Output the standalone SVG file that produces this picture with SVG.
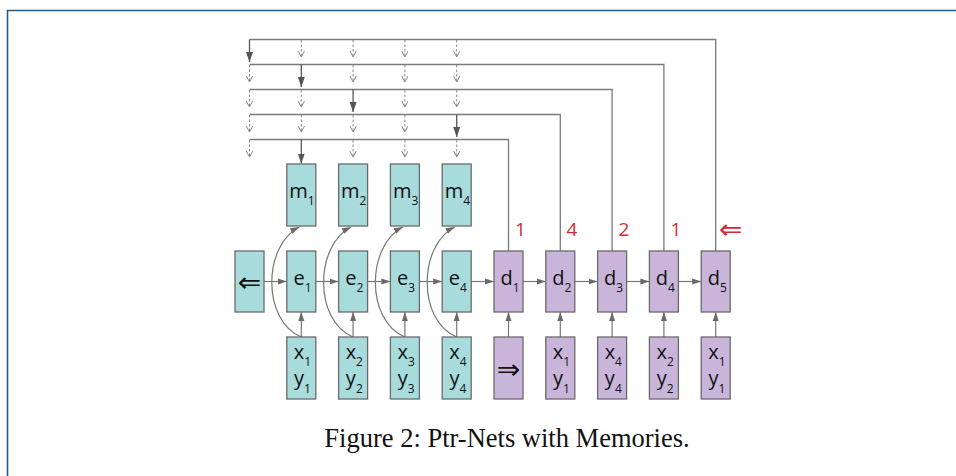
<svg xmlns="http://www.w3.org/2000/svg" width="956" height="476" viewBox="0 0 956 476">
<style>
.bt{fill:#a8dcdc;stroke:#6a6a6a;stroke-width:1.3}
.bp{fill:#c9b5da;stroke:#6a6a6a;stroke-width:1.3}
.lbl{font-family:"Open Sans","DejaVu Sans",sans-serif;font-size:20px;fill:#111;text-anchor:middle}
.sub{font-size:12px}
.arr{font-family:"DejaVu Sans",sans-serif;font-size:28px;fill:#111;text-anchor:middle}
.red{font-family:"Open Sans","DejaVu Sans",sans-serif;font-size:19px;fill:#d42a35;text-anchor:middle}
.ln{fill:none;stroke:#7a7a7a;stroke-width:1.3}
.sol{fill:none;stroke:#555;stroke-width:1.3;marker-end:url(#ah)}
.con{fill:none;stroke:#777;stroke-width:1.2;marker-end:url(#ah2)}
.dsh{fill:none;stroke:#888;stroke-width:1;stroke-dasharray:2.5 2;marker-end:url(#ao)}
.cap{font-family:"Liberation Serif","Times New Roman",serif;font-size:26.5px;fill:#111;text-anchor:middle}
</style>
<defs>
<marker id="ah" markerUnits="userSpaceOnUse" markerWidth="10" markerHeight="8" refX="10" refY="4" orient="auto"><path d="M0,0.5 L10,4 L0,7.5 z" fill="#555"/></marker>
<marker id="ah2" markerUnits="userSpaceOnUse" markerWidth="10" markerHeight="8" refX="9" refY="3.5" orient="auto"><path d="M0,0.5 L9,3.5 L0,6.5 z" fill="#6a6a6a"/></marker>
<marker id="ao" markerUnits="userSpaceOnUse" markerWidth="8" markerHeight="8" refX="6" refY="3.5" orient="auto"><path d="M0,0.3 L6,3.5 L0,6.7" fill="none" stroke="#888" stroke-width="1"/></marker>
</defs>
<rect width="956" height="476" fill="#fff"/>
<path d="M7.5,476 V10.5 H956" fill="none" stroke="#2b5b8b" stroke-width="1.6"/>

<g id="connectors">
<path class="ln" d="M715.7,251 V39.5 H249.5"/>
<path class="ln" d="M663.9,251 V64.5 H249.5"/>
<path class="ln" d="M612.1,251 V89.5 H249.5"/>
<path class="ln" d="M560.3,251 V114.5 H249.5"/>
<path class="ln" d="M508.5,251 V139.5 H249.5"/>
<path class="sol" d="M249.5,39.5 V62"/>
<path class="sol" d="M301.3,64.5 V87"/>
<path class="sol" d="M353.1,89.5 V112"/>
<path class="sol" d="M456.7,114.5 V137"/>
<path class="sol" d="M301.3,139.5 V163.5"/>
<path class="dsh" d="M301.3,40 V57"/><path class="dsh" d="M353.1,40 V57"/><path class="dsh" d="M404.9,40 V57"/><path class="dsh" d="M456.7,40 V57"/>
<path class="dsh" d="M249.5,65 V82"/><path class="dsh" d="M353.1,65 V82"/><path class="dsh" d="M404.9,65 V82"/><path class="dsh" d="M456.7,65 V82"/>
<path class="dsh" d="M249.5,90 V107"/><path class="dsh" d="M301.3,90 V107"/><path class="dsh" d="M404.9,90 V107"/><path class="dsh" d="M456.7,90 V107"/>
<path class="dsh" d="M249.5,115 V132"/><path class="dsh" d="M301.3,115 V132"/><path class="dsh" d="M353.1,115 V132"/><path class="dsh" d="M404.9,115 V132"/>
<path class="dsh" d="M249.5,140 V157"/><path class="dsh" d="M353.1,140 V157"/><path class="dsh" d="M404.9,140 V157"/><path class="dsh" d="M456.7,140 V157"/>
<path class="con" d="M264,281.5 H286.8"/>
<path class="con" d="M315.8,281.5 H338.6"/>
<path class="con" d="M367.6,281.5 H390.4"/>
<path class="con" d="M419.4,281.5 H442.2"/>
<path class="con" d="M471.2,281.5 H494"/>
<path class="con" d="M523,281.5 H545.8"/>
<path class="con" d="M574.8,281.5 H597.6"/>
<path class="con" d="M626.6,281.5 H649.4"/>
<path class="con" d="M678.4,281.5 H701.2"/>
<path class="con" d="M301.3,337 V312"/>
<path class="con" d="M353.1,337 V312"/>
<path class="con" d="M404.9,337 V312"/>
<path class="con" d="M456.7,337 V312"/>
<path class="con" d="M508.5,337 V312"/>
<path class="con" d="M560.3,337 V312"/>
<path class="con" d="M612.1,337 V312"/>
<path class="con" d="M663.9,337 V312"/>
<path class="con" d="M715.7,337 V312"/>
<path class="con" d="M301.3,337 C261.3,320 263.3,245 299.3,227"/>
<path class="con" d="M353.1,337 C313.1,320 315.1,245 351.1,227"/>
<path class="con" d="M404.9,337 C364.9,320 366.9,245 402.9,227"/>
<path class="con" d="M456.7,337 C416.7,320 418.7,245 454.7,227"/>
</g>

<g id="m1"><rect class="bt" x="286.8" y="164" width="29" height="62"/><text class="lbl" x="302" y="198">m<tspan class="sub" dy="7">1</tspan></text></g>
<g id="m2"><rect class="bt" x="338.6" y="164" width="29" height="62"/><text class="lbl" x="353.8" y="198">m<tspan class="sub" dy="7">2</tspan></text></g>
<g id="m3"><rect class="bt" x="390.4" y="164" width="29" height="62"/><text class="lbl" x="405.6" y="198">m<tspan class="sub" dy="7">3</tspan></text></g>
<g id="m4"><rect class="bt" x="442.2" y="164" width="29" height="62"/><text class="lbl" x="457.4" y="198">m<tspan class="sub" dy="7">4</tspan></text></g>

<g id="start"><rect class="bt" x="235" y="251" width="29" height="61"/><text class="arr" x="249.5" y="291.5">⇐</text></g>
<g id="e1"><rect class="bt" x="286.8" y="251" width="29" height="61"/><text class="lbl" x="302.5" y="285">e<tspan class="sub" dy="7">1</tspan></text></g>
<g id="e2"><rect class="bt" x="338.6" y="251" width="29" height="61"/><text class="lbl" x="354.3" y="285">e<tspan class="sub" dy="7">2</tspan></text></g>
<g id="e3"><rect class="bt" x="390.4" y="251" width="29" height="61"/><text class="lbl" x="406.1" y="285">e<tspan class="sub" dy="7">3</tspan></text></g>
<g id="e4"><rect class="bt" x="442.2" y="251" width="29" height="61"/><text class="lbl" x="457.9" y="285">e<tspan class="sub" dy="7">4</tspan></text></g>
<g id="d1"><rect class="bp" x="494" y="251" width="29" height="61"/><text class="lbl" x="510" y="285">d<tspan class="sub" dy="7">1</tspan></text></g>
<g id="d2"><rect class="bp" x="545.8" y="251" width="29" height="61"/><text class="lbl" x="561.8" y="285">d<tspan class="sub" dy="7">2</tspan></text></g>
<g id="d3"><rect class="bp" x="597.6" y="251" width="29" height="61"/><text class="lbl" x="613.6" y="285">d<tspan class="sub" dy="7">3</tspan></text></g>
<g id="d4"><rect class="bp" x="649.4" y="251" width="29" height="61"/><text class="lbl" x="665.4" y="285">d<tspan class="sub" dy="7">4</tspan></text></g>
<g id="d5"><rect class="bp" x="701.2" y="251" width="29" height="61"/><text class="lbl" x="717.2" y="285">d<tspan class="sub" dy="7">5</tspan></text></g>

<g id="x1"><rect class="bt" x="286.8" y="337" width="29" height="62"/><text class="lbl" x="302.5" y="359">x<tspan class="sub" dy="7">1</tspan></text><text class="lbl" x="302.5" y="385">y<tspan class="sub" dy="8">1</tspan></text></g>
<g id="x2"><rect class="bt" x="338.6" y="337" width="29" height="62"/><text class="lbl" x="354.3" y="359">x<tspan class="sub" dy="7">2</tspan></text><text class="lbl" x="354.3" y="385">y<tspan class="sub" dy="8">2</tspan></text></g>
<g id="x3"><rect class="bt" x="390.4" y="337" width="29" height="62"/><text class="lbl" x="406.1" y="359">x<tspan class="sub" dy="7">3</tspan></text><text class="lbl" x="406.1" y="385">y<tspan class="sub" dy="8">3</tspan></text></g>
<g id="x4"><rect class="bt" x="442.2" y="337" width="29" height="62"/><text class="lbl" x="457.9" y="359">x<tspan class="sub" dy="7">4</tspan></text><text class="lbl" x="457.9" y="385">y<tspan class="sub" dy="8">4</tspan></text></g>
<g id="go"><rect class="bp" x="494" y="337" width="29" height="62"/><text class="arr" x="508.5" y="378.5">⇒</text></g>
<g id="i2"><rect class="bp" x="545.8" y="337" width="29" height="62"/><text class="lbl" x="561.5" y="359">x<tspan class="sub" dy="7">1</tspan></text><text class="lbl" x="561.5" y="385">y<tspan class="sub" dy="8">1</tspan></text></g>
<g id="i3"><rect class="bp" x="597.6" y="337" width="29" height="62"/><text class="lbl" x="613.3" y="359">x<tspan class="sub" dy="7">4</tspan></text><text class="lbl" x="613.3" y="385">y<tspan class="sub" dy="8">4</tspan></text></g>
<g id="i4"><rect class="bp" x="649.4" y="337" width="29" height="62"/><text class="lbl" x="665.1" y="359">x<tspan class="sub" dy="7">2</tspan></text><text class="lbl" x="665.1" y="385">y<tspan class="sub" dy="8">2</tspan></text></g>
<g id="i5"><rect class="bp" x="701.2" y="337" width="29" height="62"/><text class="lbl" x="716.9" y="359">x<tspan class="sub" dy="7">1</tspan></text><text class="lbl" x="716.9" y="385">y<tspan class="sub" dy="8">1</tspan></text></g>

<g id="pointers">
<text class="red" x="520.5" y="235.5">1</text>
<text class="red" x="572" y="235.5">4</text>
<text class="red" x="624" y="235.5">2</text>
<text class="red" x="676" y="235.5">1</text>
<text class="arr" x="730.7" y="239" style="fill:#d42a35">⇐</text>
</g>

<text class="cap" x="507" y="447">Figure 2: Ptr-Nets with Memories.</text>
</svg>
